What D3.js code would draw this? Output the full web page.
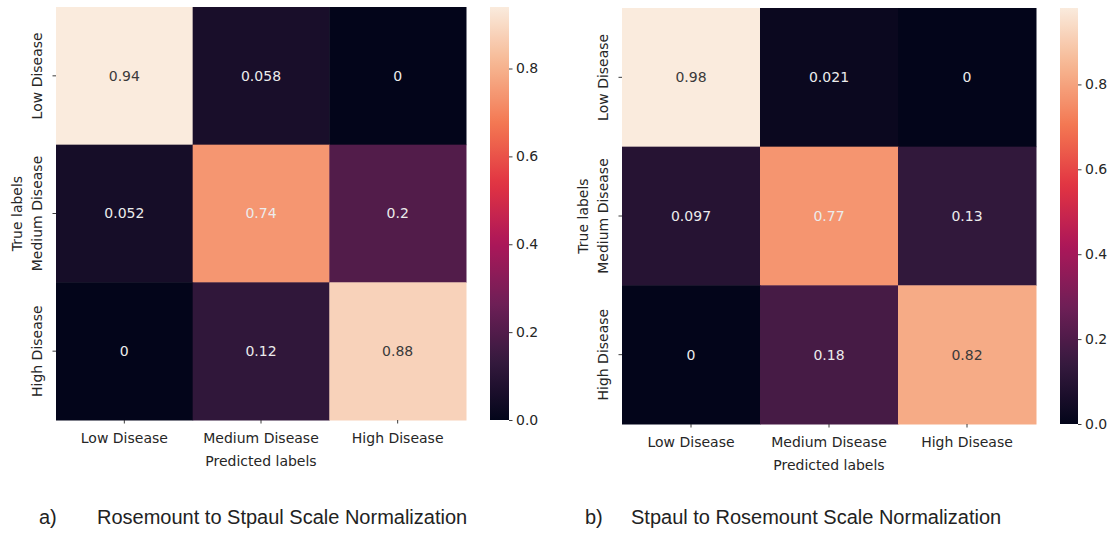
<!DOCTYPE html>
<html>
<head>
<meta charset="utf-8">
<script src="https://cdn.jsdelivr.net/npm/d3@7"></script>
<style>
  html, body { margin: 0; padding: 0; background: #ffffff; }
  svg { display: block; }
  .tick text { font-family: "DejaVu Sans", sans-serif; font-size: 14px; fill: #262626; }
  .tick line { stroke: #262626; stroke-width: 0.9; }
</style>
</head>
<body>
<svg id="chart" width="1119" height="533"></svg>
<script>
// Class names shared by both confusion matrices
const classLabels = ["Low Disease", "Medium Disease", "High Disease"];

// Row-normalised confusion matrices (rows = true class, columns = predicted class)
const matrixRosemountToStpaul = [
  [0.94, 0.058, 0],
  [0.052, 0.74, 0.2],
  [0, 0.12, 0.88]
];
const matrixStpaulToRosemount = [
  [0.98, 0.021, 0],
  [0.097, 0.77, 0.13],
  [0, 0.18, 0.82]
];

// Colour bar ticks
const colorbarTicks = [0, 0.2, 0.4, 0.6, 0.8];

// Axis titles and panel captions
const xAxisTitle = "Predicted labels";
const yAxisTitle = "True labels";
const panelTags = ["a)", "b)"];
const panelCaptions = [
  "Rosemount to Stpaul Scale Normalization",
  "Stpaul to Rosemount Scale Normalization"
];

// "rocket" colour map stops (seaborn)
const rocketStops = ["#03051a", "#35193e", "#701f57", "#ad1759", "#e13342", "#f37651", "#f6b48f", "#faebdd"];
const rocket = d3.scaleLinear()
  .domain(d3.range(rocketStops.length).map(i => i / (rocketStops.length - 1)))
  .range(rocketStops)
  .interpolate(d3.interpolateRgb)
  .clamp(true);

const svg = d3.select("#chart");
const defs = svg.append("defs");
const fmt = d3.format(".2~g");

function luminance(c) {
  const rgb = d3.rgb(c);
  const lin = v => { v /= 255; return v <= 0.03928 ? v / 12.92 : Math.pow((v + 0.055) / 1.055, 2.4); };
  return 0.2126 * lin(rgb.r) + 0.7152 * lin(rgb.g) + 0.0722 * lin(rgb.b);
}

function drawPanel(cfg) {
  const { matrix, id, hx0, hx1, hy0, hy1, cbx0, cbx1, tagX, capX } = cfg;
  const vmax = d3.max(matrix.flat());
  const color = v => rocket(v / vmax);
  const g = svg.append("g");

  const x = d3.scaleBand().domain(classLabels).range([hx0, hx1]).padding(0);
  const y = d3.scaleBand().domain(classLabels).range([hy0, hy1]).padding(0);

  const cells = matrix.flatMap((row, i) => row.map((v, j) => ({ t: classLabels[i], p: classLabels[j], v })));

  g.selectAll("rect.cell").data(cells).join("rect")
    .attr("class", "cell")
    .attr("x", d => x(d.p))
    .attr("y", d => y(d.t))
    .attr("width", x.bandwidth() + 0.5)
    .attr("height", y.bandwidth() + 0.5)
    .attr("fill", d => color(d.v));

  // light text on dark cells, dark text on light cells
  g.selectAll("text.annot").data(cells).join("text")
    .attr("class", "annot")
    .attr("x", d => x(d.p) + x.bandwidth() / 2)
    .attr("y", d => y(d.t) + y.bandwidth() / 2)
    .attr("dy", "0.35em")
    .attr("text-anchor", "middle")
    .style("font-family", "DejaVu Sans, sans-serif")
    .style("font-size", "14px")
    .attr("fill", d => luminance(color(d.v)) > 0.44 ? "#3a3a3a" : "#ececec")
    .text(d => fmt(d.v));

  // x axis
  const xAxis = g.append("g")
    .attr("transform", `translate(0,${hy1})`)
    .call(d3.axisBottom(x).tickSize(3.5).tickPadding(4));
  xAxis.select(".domain").remove();
  xAxis.selectAll(".tick text").attr("dy", "1.12em");

  // y axis (labels rotated to read bottom-to-top)
  const yAxis = g.append("g")
    .attr("transform", `translate(${hx0},0)`)
    .call(d3.axisLeft(y).tickSize(3.5));
  yAxis.select(".domain").remove();
  yAxis.selectAll(".tick text")
    .attr("x", 0).attr("y", 0).attr("dy", 0)
    .attr("text-anchor", "middle")
    .attr("transform", "translate(-14,0) rotate(-90)");

  // axis titles
  g.append("text")
    .attr("x", (hx0 + hx1) / 2)
    .attr("y", hy1 + 45.5)
    .attr("text-anchor", "middle")
    .style("font-family", "DejaVu Sans, sans-serif")
    .style("font-size", "14px")
    .attr("fill", "#262626")
    .text(xAxisTitle);

  g.append("text")
    .attr("transform", `translate(${hx0 - 34},${(hy0 + hy1) / 2}) rotate(-90)`)
    .attr("text-anchor", "middle")
    .style("font-family", "DejaVu Sans, sans-serif")
    .style("font-size", "14px")
    .attr("fill", "#262626")
    .text(yAxisTitle);

  // colour bar
  const grad = defs.append("linearGradient")
    .attr("id", id)
    .attr("x1", 0).attr("y1", 1).attr("x2", 0).attr("y2", 0);
  d3.range(0, 1.0001, 0.02).forEach(t => {
    grad.append("stop").attr("offset", t).attr("stop-color", rocket(t));
  });
  g.append("rect")
    .attr("x", cbx0).attr("y", hy0)
    .attr("width", cbx1 - cbx0).attr("height", hy1 - hy0)
    .attr("fill", `url(#${id})`);

  const cb = d3.scaleLinear().domain([0, vmax]).range([hy1, hy0]);
  const cbAxis = g.append("g")
    .attr("transform", `translate(${cbx1},0)`)
    .call(d3.axisRight(cb).tickValues(colorbarTicks).tickFormat(d3.format(".1f")).tickSize(3.5).tickPadding(3.5));
  cbAxis.select(".domain").remove();

  // caption
  g.append("text")
    .attr("x", tagX).attr("y", 524)
    .style("font-family", "Liberation Sans, Arial, sans-serif")
    .style("font-size", "20px")
    .attr("fill", "#222")
    .text(cfg.tag);
  g.append("text")
    .attr("x", capX).attr("y", 524)
    .style("font-family", "Liberation Sans, Arial, sans-serif")
    .style("font-size", "20px")
    .attr("fill", "#222")
    .text(cfg.caption);
}

drawPanel({
  matrix: matrixRosemountToStpaul, id: "cbA",
  hx0: 56, hx1: 466, hy0: 7, hy1: 420,
  cbx0: 490, cbx1: 509,
  tag: panelTags[0], caption: panelCaptions[0], tagX: 39, capX: 97
});

drawPanel({
  matrix: matrixStpaulToRosemount, id: "cbB",
  hx0: 622, hx1: 1036, hy0: 8, hy1: 424,
  cbx0: 1060, cbx1: 1078,
  tag: panelTags[1], caption: panelCaptions[1], tagX: 585, capX: 631
});
</script>
</body>
</html>
